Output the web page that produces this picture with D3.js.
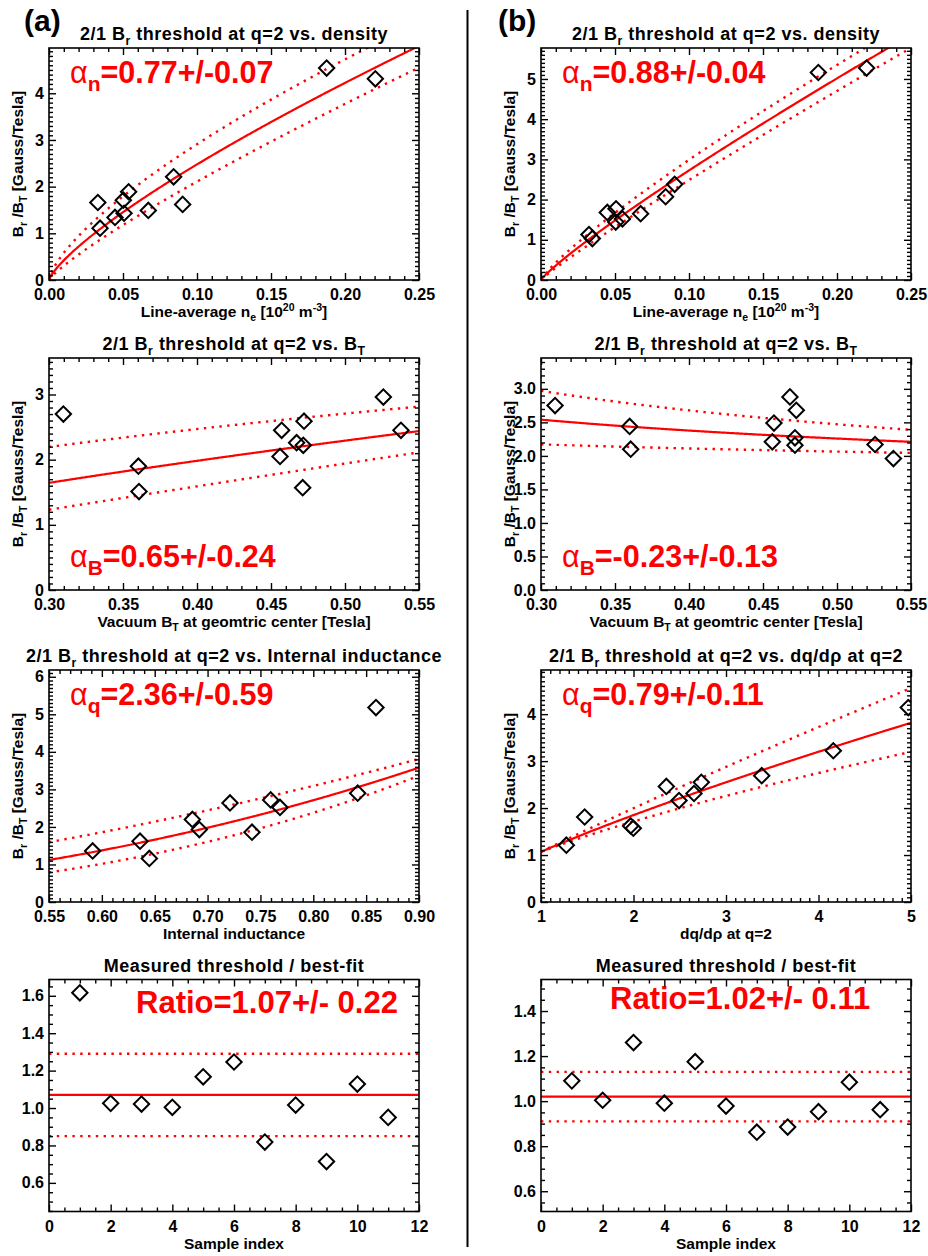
<!DOCTYPE html>
<html>
<head>
<meta charset="utf-8">
<script src="https://cdn.jsdelivr.net/npm/d3@7"></script>
<style>
  body { margin: 0; background: #fff; }
  svg { display: block; }
  text { font-family: "Liberation Sans", Arial, Helvetica, sans-serif; font-weight: bold; white-space: pre; }
</style>
</head>
<body>
<svg id="fig" width="928" height="1256"></svg>
<script>
// ---------- measured data ----------
// Row 1: threshold vs line-average density
const densityA   = [0.033, 0.0345, 0.0446, 0.0502, 0.0538, 0.0507, 0.0671, 0.0842, 0.0903, 0.1876, 0.2205];
const brDensityA = [1.66, 1.11, 1.34, 1.71, 1.89, 1.43, 1.49, 2.21, 1.62, 4.54, 4.31];
const densityB   = [0.0324, 0.0347, 0.0448, 0.0507, 0.0505, 0.0550, 0.0673, 0.0842, 0.0903, 0.1874, 0.2200];
const brDensityB = [1.13, 1.03, 1.68, 1.77, 1.44, 1.52, 1.65, 2.07, 2.38, 5.16, 5.27];

// Row 2: threshold vs vacuum toroidal field
const btA   = [0.3097, 0.3604, 0.3608, 0.4572, 0.4561, 0.4673, 0.4723, 0.4718, 0.4714, 0.5259, 0.5378];
const brBtA = [2.70, 1.90, 1.51, 2.45, 2.05, 2.26, 2.59, 2.22, 1.57, 2.96, 2.45];
const btB   = [0.3095, 0.3599, 0.3606, 0.4574, 0.4563, 0.4682, 0.4725, 0.4716, 0.4716, 0.5257, 0.5381];
const brBtB = [2.75, 2.44, 2.10, 2.49, 2.21, 2.88, 2.68, 2.27, 2.16, 2.17, 1.96];

// Row 3: threshold vs internal inductance (a) and dq/drho at q=2 (b)
const liA    = [0.5913, 0.6361, 0.6449, 0.6856, 0.6922, 0.7212, 0.7420, 0.7597, 0.7685, 0.8420, 0.8593];
const brLiA  = [1.36, 1.62, 1.16, 2.20, 1.93, 2.64, 1.86, 2.72, 2.52, 2.90, 5.18];
const dqB    = [1.274, 1.472, 1.969, 1.998, 2.355, 2.492, 2.654, 2.733, 3.386, 4.160, 4.971];
const brDqB  = [1.21, 1.81, 1.62, 1.57, 2.46, 2.16, 2.31, 2.55, 2.69, 3.22, 4.14];

// Row 4: measured threshold / best-fit, per sample
const sampleIndex = [1, 2, 3, 4, 5, 6, 7, 8, 9, 10, 11];
const ratioA = [1.616, 1.025, 1.021, 1.004, 1.167, 1.246, 0.818, 1.016, 0.714, 1.128, 0.950];
const ratioB = [1.090, 1.004, 1.260, 0.991, 1.175, 0.978, 0.862, 0.885, 0.953, 1.084, 0.962];

// ---------- fit results (power law  y = C * x^alpha, band alpha +/- err) ----------
const fitCoefA  = [14.58, 3.596, 4.59];
const fitAlphaA = [0.77, 0.65, 2.36];
const fitErrA   = [0.07, 0.24, 0.59];
const fitCoefB  = [20.67, 1.926, 1.07];
const fitAlphaB = [0.88, -0.23, 0.79];
const fitErrB   = [0.04, 0.13, 0.11];
const ratioMean = [1.07, 1.02];
const ratioStd  = [0.22, 0.11];

// ---------- axis ranges and tick labels ----------
const xTicksDensity = [0, 0.05, 0.10, 0.15, 0.20, 0.25];
const xTicksBt      = [0.30, 0.35, 0.40, 0.45, 0.50, 0.55];
const xTicksLi      = [0.55, 0.60, 0.65, 0.70, 0.75, 0.80, 0.85, 0.90];
const xTicksDq      = [1, 2, 3, 4, 5];
const xTicksSample  = [0, 2, 4, 6, 8, 10, 12];
const yTicksDensityA = [0, 1, 2, 3, 4];
const yTicksDensityB = [0, 1, 2, 3, 4, 5];
const yTicksBtA      = [0, 1, 2, 3];
const yTicksBtB      = [0, 0.5, 1.0, 1.5, 2.0, 2.5, 3.0];
const yTicksLiA      = [0, 1, 2, 3, 4, 5, 6];
const yTicksDqB      = [0, 1, 2, 3, 4];
const yTicksRatioA   = [0.6, 0.8, 1.0, 1.2, 1.4, 1.6];
const yTicksRatioB   = [0.6, 0.8, 1.0, 1.2, 1.4];

// ---------- layout ----------
const W = 928, H = 1256;
const colLeft = [49, 541];
const rowTop = [48, 358, 670, 979.5];
const plotW = 370, plotH = 232;
const RED = "#ff0000";
const TICK_FONT = 16, TITLE_FONT = 18, LABEL_FONT = 15.5;

const svg = d3.select("#fig");
svg.append("rect").attr("width", W).attr("height", H).attr("fill", "#fff");

// text with sub/superscript segments
function rich(textSel, segs, size) {
  let off = 0;
  segs.forEach(s => {
    const target = s.sub ? size * 0.27 : s.sup ? -size * 0.36 : 0;
    const ts = textSel.append("tspan").text(s.t).attr("dy", target - off);
    if (s.sub || s.sup) ts.attr("font-size", s.size || size * 0.68);
    if (s.normal) ts.attr("font-weight", "normal");
    off = target;
  });
  return textSel;
}

const sub = t => ({ t, sub: true });
const sup = t => ({ t, sup: true });
const txt = t => ({ t });

const yLabel = [txt("B"), sub("r"), txt(" /B"), sub("T"), txt(" [Gauss/Tesla]")];

const panels = [
  { col: 0, row: 0, x: densityA, y: brDensityA, xd: [0, 0.25], yd: [0, 4.97],
    xt: xTicksDensity, xm: 0.01, xf: ".2f", yt: yTicksDensityA, ym: 0.1, yf: "d",
    title: [txt("2/1 B"), sub("r"), txt(" threshold at q=2 vs. density")],
    xlab: [txt("Line-average n"), sub("e"), txt(" [10"), sup("20"), txt(" m"), sup("-3"), txt("]")],
    fit: 0, fitSet: "A", sym: "n", symPos: "top" },
  { col: 1, row: 0, x: densityB, y: brDensityB, xd: [0, 0.25], yd: [0, 5.77],
    xt: xTicksDensity, xm: 0.01, xf: ".2f", yt: yTicksDensityB, ym: 0.1, yf: "d",
    title: [txt("2/1 B"), sub("r"), txt(" threshold at q=2 vs. density")],
    xlab: [txt("Line-average n"), sub("e"), txt(" [10"), sup("20"), txt(" m"), sup("-3"), txt("]")],
    fit: 0, fitSet: "B", sym: "n", symPos: "top" },
  { col: 0, row: 1, x: btA, y: brBtA, xd: [0.30, 0.55], yd: [0, 3.56],
    xt: xTicksBt, xm: 0.01, xf: ".2f", yt: yTicksBtA, ym: 0.1, yf: "d",
    title: [txt("2/1 B"), sub("r"), txt(" threshold at q=2 vs. B"), sub("T")],
    xlab: [txt("Vacuum B"), sub("T"), txt(" at geomtric center [Tesla]")],
    fit: 1, fitSet: "A", sym: "B", symPos: "bottom" },
  { col: 1, row: 1, x: btB, y: brBtB, xd: [0.30, 0.55], yd: [0, 3.46],
    xt: xTicksBt, xm: 0.01, xf: ".2f", yt: yTicksBtB, ym: 0.1, yf: ".1f",
    title: [txt("2/1 B"), sub("r"), txt(" threshold at q=2 vs. B"), sub("T")],
    xlab: [txt("Vacuum B"), sub("T"), txt(" at geomtric center [Tesla]")],
    fit: 1, fitSet: "B", sym: "B", symPos: "bottom" },
  { col: 0, row: 2, x: liA, y: brLiA, xd: [0.55, 0.90], yd: [0, 6.18],
    xt: xTicksLi, xm: 0.01, xf: ".2f", yt: yTicksLiA, ym: 0.1, yf: "d",
    title: [txt("2/1 B"), sub("r"), txt(" threshold at q=2 vs. Internal inductance")],
    xlab: [txt("Internal inductance")],
    fit: 2, fitSet: "A", sym: "q", symPos: "top" },
  { col: 1, row: 2, x: dqB, y: brDqB, xd: [1, 5], yd: [0, 4.94],
    xt: xTicksDq, xm: 0.1, xf: "d", yt: yTicksDqB, ym: 0.1, yf: "d",
    title: [txt("2/1 B"), sub("r"), txt(" threshold at q=2 vs. dq/d\u03C1 at q=2")],
    xlab: [txt("dq/d\u03C1 at q=2")],
    fit: 2, fitSet: "B", sym: "q", symPos: "top" },
  { col: 0, row: 3, x: sampleIndex, y: ratioA, xd: [0, 12], yd: [0.447, 1.687],
    xt: xTicksSample, xm: 0.5, xf: "d", yt: yTicksRatioA, ym: 0.05, yf: ".1f",
    title: [txt("Measured threshold / best-fit")],
    xlab: [txt("Sample index")], ratio: 0, ratioDx: 87, ratioDy: 33 },
  { col: 1, row: 3, x: sampleIndex, y: ratioB, xd: [0, 12], yd: [0.51, 1.54],
    xt: xTicksSample, xm: 0.5, xf: "d", yt: yTicksRatioB, ym: 0.05, yf: ".1f",
    title: [txt("Measured threshold / best-fit")],
    xlab: [txt("Sample index")], ratio: 1, ratioDx: 69, ratioDy: 29 }
];

function minorValues(domain, step, majors) {
  const out = [];
  const n0 = Math.ceil(domain[0] / step - 1e-6), n1 = Math.floor(domain[1] / step + 1e-6);
  for (let i = n0; i <= n1; i++) {
    const v = i * step;
    if (!majors.some(m => Math.abs(m - v) < step * 1e-3)) out.push(v);
  }
  return out;
}

panels.forEach((p, idx) => {
  const left = colLeft[p.col], top = rowTop[p.row];
  const g = svg.append("g").attr("transform", `translate(${left},${top})`);
  const x = d3.scaleLinear().domain(p.xd).range([0, plotW]);
  const y = d3.scaleLinear().domain(p.yd).range([plotH, 0]);

  const clipId = "clip" + idx;
  g.append("clipPath").attr("id", clipId)
    .append("rect").attr("width", plotW).attr("height", plotH);
  const plot = g.append("g").attr("clip-path", `url(#${clipId})`);

  // fit curves / reference lines
  if (p.fitSet) {
    const C = p.fitSet === "A" ? fitCoefA[p.fit] : fitCoefB[p.fit];
    const a = p.fitSet === "A" ? fitAlphaA[p.fit] : fitAlphaB[p.fit];
    const e = p.fitSet === "A" ? fitErrA[p.fit] : fitErrB[p.fit];
    const xs = d3.range(0, 301).map(i => p.xd[0] + (p.xd[1] - p.xd[0]) * i / 300);
    const curve = k => d3.line().x(d => x(d)).y(d => y(C * Math.pow(d, k)))(xs);
    [a - e, a + e].forEach(k => {
      plot.append("path").attr("d", curve(k)).attr("fill", "none")
        .attr("stroke", RED).attr("stroke-width", 2.4).attr("stroke-dasharray", "2.4,5.4");
    });
    plot.append("path").attr("d", curve(a)).attr("fill", "none")
      .attr("stroke", RED).attr("stroke-width", 2.2);

    // alpha label
    const lx = 21, ly = p.symPos === "top" ? 35 : plotH - 23;
    const t = g.append("text").attr("x", lx).attr("y", ly).attr("fill", RED).attr("font-size", 30.5);
    rich(t, [{ t: "\u03B1", normal: true }, { t: p.sym, sub: true, size: 21 },
             txt("=" + a.toFixed(2) + "+/-" + e.toFixed(2))], 30.5);
  }
  if (p.ratio !== undefined) {
    const m = ratioMean[p.ratio], s = ratioStd[p.ratio];
    [m + s, m - s].forEach(v => {
      plot.append("line").attr("x1", 0).attr("x2", plotW).attr("y1", y(v)).attr("y2", y(v))
        .attr("stroke", RED).attr("stroke-width", 2.4).attr("stroke-dasharray", "2.4,5.4");
    });
    plot.append("line").attr("x1", 0).attr("x2", plotW).attr("y1", y(m)).attr("y2", y(m))
      .attr("stroke", RED).attr("stroke-width", 2.2);
    g.append("text").attr("x", p.ratioDx).attr("y", p.ratioDy).attr("fill", RED)
      .attr("font-size", 31).text("Ratio=" + m.toFixed(2) + "+/- " + s.toFixed(2));
  }

  // data points: open diamonds
  const diamond = d3.symbol().type(d3.symbolSquare).size(118)();
  plot.selectAll("path.pt").data(p.x.map((d, i) => [d, p.y[i]])).join("path")
    .attr("class", "pt").attr("d", diamond)
    .attr("transform", d => `translate(${x(d[0])},${y(d[1])}) rotate(45)`)
    .attr("fill", "none").attr("stroke", "#000").attr("stroke-width", 2);

  // axes: ticks on all four sides pointing inward
  const xMinor = minorValues(p.xd, p.xm, p.xt);
  const yMinor = minorValues(p.yd, p.ym, p.yt);
  const styleAxis = sel => {
    sel.select(".domain").remove();
    sel.selectAll("line").attr("stroke", "#000").attr("stroke-width", 1.4);
    sel.selectAll("text").attr("font-size", TICK_FONT).attr("fill", "#000")
      .attr("font-family", "'Liberation Sans', Arial, sans-serif").attr("font-weight", "bold");
  };
  g.append("g").attr("transform", `translate(0,${plotH})`)
    .call(d3.axisBottom(x).tickValues(p.xt).tickFormat(d3.format(p.xf)).tickSize(-7).tickPadding(9))
    .call(styleAxis);
  g.append("g").attr("transform", `translate(0,${plotH})`)
    .call(d3.axisBottom(x).tickValues(xMinor).tickFormat("").tickSize(-4)).call(styleAxis);
  g.append("g")
    .call(d3.axisTop(x).tickValues(p.xt).tickFormat("").tickSize(-7)).call(styleAxis);
  g.append("g")
    .call(d3.axisTop(x).tickValues(xMinor).tickFormat("").tickSize(-4)).call(styleAxis);
  g.append("g")
    .call(d3.axisLeft(y).tickValues(p.yt).tickFormat(d3.format(p.yf)).tickSize(-7).tickPadding(5))
    .call(styleAxis);
  g.append("g")
    .call(d3.axisLeft(y).tickValues(yMinor).tickFormat("").tickSize(-4)).call(styleAxis);
  g.append("g").attr("transform", `translate(${plotW},0)`)
    .call(d3.axisRight(y).tickValues(p.yt).tickFormat("").tickSize(-7)).call(styleAxis);
  g.append("g").attr("transform", `translate(${plotW},0)`)
    .call(d3.axisRight(y).tickValues(yMinor).tickFormat("").tickSize(-4)).call(styleAxis);

  g.append("rect").attr("width", plotW).attr("height", plotH)
    .attr("fill", "none").attr("stroke", "#000").attr("stroke-width", 1.6);

  // title
  rich(g.append("text").attr("x", plotW / 2).attr("y", -8).attr("text-anchor", "middle")
    .attr("font-size", TITLE_FONT).attr("letter-spacing", 0.5).attr("fill", "#000"), p.title, TITLE_FONT);
  // x label
  rich(g.append("text").attr("x", plotW / 2).attr("y", plotH + 37).attr("text-anchor", "middle")
    .attr("font-size", LABEL_FONT).attr("fill", "#000"), p.xlab, LABEL_FONT);
  // y label
  if (p.fitSet) {
    rich(g.append("text").attr("transform", `translate(-26,${plotH / 2}) rotate(-90)`)
      .attr("text-anchor", "middle").attr("font-size", LABEL_FONT).attr("fill", "#000"), yLabel, LABEL_FONT);
  }
});

// panel letters and column separator
svg.append("text").attr("x", 24).attr("y", 31).attr("font-size", 30).text("(a)");
svg.append("text").attr("x", 498).attr("y", 31).attr("font-size", 30).text("(b)");
svg.append("line").attr("x1", 467.5).attr("x2", 467.5).attr("y1", 10).attr("y2", 1247)
  .attr("stroke", "#000").attr("stroke-width", 2);
</script>
</body>
</html>
